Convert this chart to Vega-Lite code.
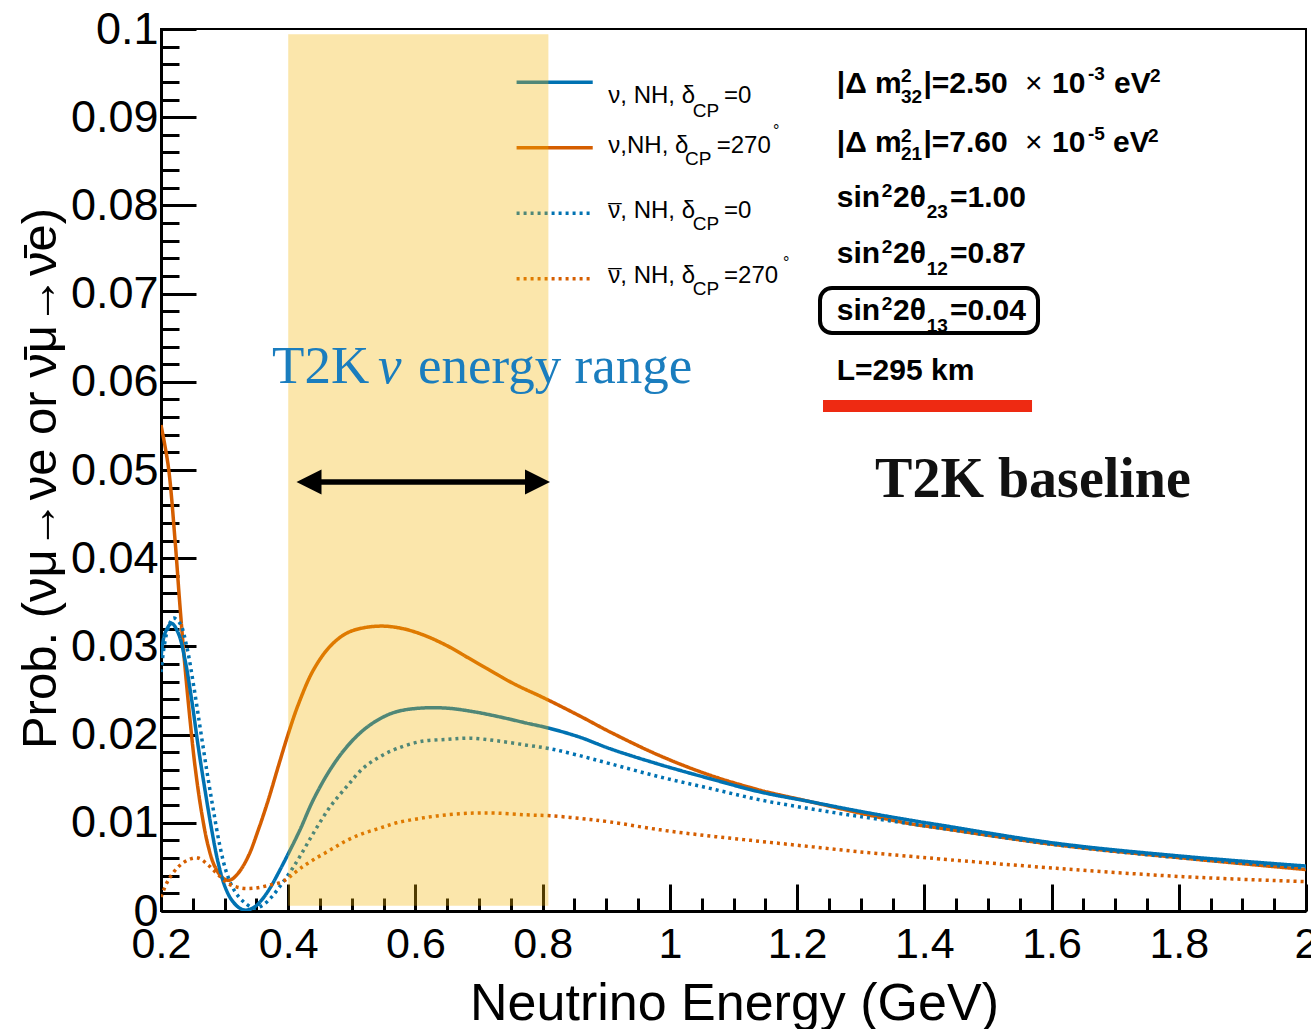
{
  "$schema": "https://vega.github.io/schema/vega-lite/v6.json",
  "width": 1145,
  "height": 882,
  "autosize": "none",
  "padding": {"left": 161, "top": 29, "right": 5, "bottom": 118},
  "background": "white",
  "config": {
    "view": {"stroke": "black", "strokeWidth": 2},
    "font": "Liberation Sans",
    "axis": {"grid": false, "domainColor": "black", "domainWidth": 3, "tickColor": "black", "tickWidth": 3, "labelColor": "black", "titleColor": "black", "labelFont": "Liberation Sans", "titleFont": "Liberation Sans", "labelFontWeight": "normal", "titleFontWeight": "normal", "labelOverlap": false, "labelBound": false, "labelFlush": false}
  },
  "resolve": {"axis": {"x": "independent", "y": "independent"}},
  "datasets": {
    "curves": [
      {"s": "nu270", "E": 0.2, "P": 0.0551}, {"s": "nu270", "E": 0.2115, "P": 0.0504}, {"s": "nu270", "E": 0.222, "P": 0.0421}, {"s": "nu270", "E": 0.2299, "P": 0.0345}, {"s": "nu270", "E": 0.2377, "P": 0.0277}, {"s": "nu270", "E": 0.2456, "P": 0.0217}, {"s": "nu270", "E": 0.2535, "P": 0.0164}, {"s": "nu270", "E": 0.264, "P": 0.0111}, {"s": "nu270", "E": 0.2744, "P": 0.0073}, {"s": "nu270", "E": 0.2849, "P": 0.005}, {"s": "nu270", "E": 0.2979, "P": 0.0037}, {"s": "nu270", "E": 0.3085, "P": 0.0035}, {"s": "nu270", "E": 0.3215, "P": 0.0043}, {"s": "nu270", "E": 0.3372, "P": 0.0062}, {"s": "nu270", "E": 0.353, "P": 0.0092}, {"s": "nu270", "E": 0.3687, "P": 0.0126}, {"s": "nu270", "E": 0.3844, "P": 0.0164}, {"s": "nu270", "E": 0.4001, "P": 0.0201}, {"s": "nu270", "E": 0.4158, "P": 0.0234}, {"s": "nu270", "E": 0.4394, "P": 0.0273}, {"s": "nu270", "E": 0.4657, "P": 0.03}, {"s": "nu270", "E": 0.4919, "P": 0.0315}, {"s": "nu270", "E": 0.518, "P": 0.0321}, {"s": "nu270", "E": 0.5495, "P": 0.0323}, {"s": "nu270", "E": 0.581, "P": 0.032}, {"s": "nu270", "E": 0.6124, "P": 0.0313}, {"s": "nu270", "E": 0.6491, "P": 0.0301}, {"s": "nu270", "E": 0.6806, "P": 0.0288}, {"s": "nu270", "E": 0.712, "P": 0.0275}, {"s": "nu270", "E": 0.7538, "P": 0.0258}, {"s": "nu270", "E": 0.8064, "P": 0.024}, {"s": "nu270", "E": 0.8587, "P": 0.0221}, {"s": "nu270", "E": 0.9059, "P": 0.0203}, {"s": "nu270", "E": 0.9845, "P": 0.0176}, {"s": "nu270", "E": 1.0631, "P": 0.0154}, {"s": "nu270", "E": 1.1417, "P": 0.0137}, {"s": "nu270", "E": 1.2203, "P": 0.0124}, {"s": "nu270", "E": 1.2989, "P": 0.0111}, {"s": "nu270", "E": 1.3775, "P": 0.0099}, {"s": "nu270", "E": 1.4247, "P": 0.0094}, {"s": "nu270", "E": 1.6081, "P": 0.0075}, {"s": "nu270", "E": 1.8071, "P": 0.006}, {"s": "nu270", "E": 2.0, "P": 0.0047},
      {"s": "nu0", "E": 0.2, "P": 0.0287}, {"s": "nu0", "E": 0.2063, "P": 0.0315}, {"s": "nu0", "E": 0.2168, "P": 0.0326}, {"s": "nu0", "E": 0.2272, "P": 0.0315}, {"s": "nu0", "E": 0.2377, "P": 0.0285}, {"s": "nu0", "E": 0.2483, "P": 0.0239}, {"s": "nu0", "E": 0.2586, "P": 0.0186}, {"s": "nu0", "E": 0.2692, "P": 0.0137}, {"s": "nu0", "E": 0.2797, "P": 0.0092}, {"s": "nu0", "E": 0.2901, "P": 0.0054}, {"s": "nu0", "E": 0.3006, "P": 0.00276}, {"s": "nu0", "E": 0.3111, "P": 0.00125}, {"s": "nu0", "E": 0.3242, "P": 0.0003}, {"s": "nu0", "E": 0.3347, "P": 0.0001}, {"s": "nu0", "E": 0.3478, "P": 0.0005}, {"s": "nu0", "E": 0.3583, "P": 0.00125}, {"s": "nu0", "E": 0.3714, "P": 0.0026}, {"s": "nu0", "E": 0.3844, "P": 0.0043}, {"s": "nu0", "E": 0.4001, "P": 0.0065}, {"s": "nu0", "E": 0.4185, "P": 0.0092}, {"s": "nu0", "E": 0.4394, "P": 0.0126}, {"s": "nu0", "E": 0.4657, "P": 0.016}, {"s": "nu0", "E": 0.4919, "P": 0.0186}, {"s": "nu0", "E": 0.518, "P": 0.0205}, {"s": "nu0", "E": 0.5443, "P": 0.0218}, {"s": "nu0", "E": 0.5705, "P": 0.0226}, {"s": "nu0", "E": 0.6072, "P": 0.023}, {"s": "nu0", "E": 0.6491, "P": 0.023}, {"s": "nu0", "E": 0.691, "P": 0.0226}, {"s": "nu0", "E": 0.7329, "P": 0.022}, {"s": "nu0", "E": 0.7749, "P": 0.0213}, {"s": "nu0", "E": 0.8115, "P": 0.0207}, {"s": "nu0", "E": 0.8587, "P": 0.0197}, {"s": "nu0", "E": 0.9059, "P": 0.0184}, {"s": "nu0", "E": 0.9845, "P": 0.0166}, {"s": "nu0", "E": 1.0631, "P": 0.015}, {"s": "nu0", "E": 1.1417, "P": 0.0135}, {"s": "nu0", "E": 1.2203, "P": 0.0124}, {"s": "nu0", "E": 1.2989, "P": 0.0113}, {"s": "nu0", "E": 1.3775, "P": 0.0103}, {"s": "nu0", "E": 1.4247, "P": 0.00975}, {"s": "nu0", "E": 1.6081, "P": 0.00767}, {"s": "nu0", "E": 1.8071, "P": 0.0062}, {"s": "nu0", "E": 2.0, "P": 0.0051},
      {"s": "nubar0", "E": 0.2, "P": 0.0271}, {"s": "nubar0", "E": 0.209, "P": 0.0315}, {"s": "nubar0", "E": 0.2193, "P": 0.0332}, {"s": "nubar0", "E": 0.2299, "P": 0.0326}, {"s": "nubar0", "E": 0.2404, "P": 0.03}, {"s": "nubar0", "E": 0.2508, "P": 0.0258}, {"s": "nubar0", "E": 0.2613, "P": 0.0209}, {"s": "nubar0", "E": 0.2718, "P": 0.016}, {"s": "nubar0", "E": 0.2822, "P": 0.0115}, {"s": "nubar0", "E": 0.2928, "P": 0.0073}, {"s": "nubar0", "E": 0.3033, "P": 0.0043}, {"s": "nubar0", "E": 0.3163, "P": 0.0022}, {"s": "nubar0", "E": 0.3321, "P": 0.0009}, {"s": "nubar0", "E": 0.3478, "P": 0.0003}, {"s": "nubar0", "E": 0.3608, "P": 0.0007}, {"s": "nubar0", "E": 0.374, "P": 0.0016}, {"s": "nubar0", "E": 0.3871, "P": 0.0028}, {"s": "nubar0", "E": 0.4028, "P": 0.0044}, {"s": "nubar0", "E": 0.4185, "P": 0.0062}, {"s": "nubar0", "E": 0.4394, "P": 0.0088}, {"s": "nubar0", "E": 0.4657, "P": 0.0118}, {"s": "nubar0", "E": 0.4919, "P": 0.0141}, {"s": "nubar0", "E": 0.518, "P": 0.0162}, {"s": "nubar0", "E": 0.5443, "P": 0.0175}, {"s": "nubar0", "E": 0.5705, "P": 0.0184}, {"s": "nubar0", "E": 0.6072, "P": 0.0192}, {"s": "nubar0", "E": 0.6491, "P": 0.01946}, {"s": "nubar0", "E": 0.6858, "P": 0.0196}, {"s": "nubar0", "E": 0.7277, "P": 0.0193}, {"s": "nubar0", "E": 0.7749, "P": 0.0188}, {"s": "nubar0", "E": 0.8115, "P": 0.0184}, {"s": "nubar0", "E": 0.8535, "P": 0.0177}, {"s": "nubar0", "E": 0.9059, "P": 0.0167}, {"s": "nubar0", "E": 0.9845, "P": 0.0152}, {"s": "nubar0", "E": 1.0631, "P": 0.0139}, {"s": "nubar0", "E": 1.1417, "P": 0.0126}, {"s": "nubar0", "E": 1.2203, "P": 0.0116}, {"s": "nubar0", "E": 1.2989, "P": 0.0107}, {"s": "nubar0", "E": 1.3775, "P": 0.0099}, {"s": "nubar0", "E": 1.4247, "P": 0.0094}, {"s": "nubar0", "E": 1.6081, "P": 0.0075}, {"s": "nubar0", "E": 1.8071, "P": 0.006}, {"s": "nubar0", "E": 2.0, "P": 0.0049},
      {"s": "nubar270", "E": 0.2, "P": 0.0016}, {"s": "nubar270", "E": 0.2115, "P": 0.0035}, {"s": "nubar270", "E": 0.2272, "P": 0.005}, {"s": "nubar270", "E": 0.2429, "P": 0.0058}, {"s": "nubar270", "E": 0.2586, "P": 0.006}, {"s": "nubar270", "E": 0.2744, "P": 0.0052}, {"s": "nubar270", "E": 0.2901, "P": 0.0041}, {"s": "nubar270", "E": 0.3058, "P": 0.0031}, {"s": "nubar270", "E": 0.3269, "P": 0.0026}, {"s": "nubar270", "E": 0.3478, "P": 0.0026}, {"s": "nubar270", "E": 0.3687, "P": 0.0029}, {"s": "nubar270", "E": 0.3898, "P": 0.0033}, {"s": "nubar270", "E": 0.4028, "P": 0.0039}, {"s": "nubar270", "E": 0.4185, "P": 0.0048}, {"s": "nubar270", "E": 0.4394, "P": 0.0058}, {"s": "nubar270", "E": 0.4657, "P": 0.0069}, {"s": "nubar270", "E": 0.4919, "P": 0.008}, {"s": "nubar270", "E": 0.518, "P": 0.0088}, {"s": "nubar270", "E": 0.5443, "P": 0.0094}, {"s": "nubar270", "E": 0.5705, "P": 0.01}, {"s": "nubar270", "E": 0.6072, "P": 0.0105}, {"s": "nubar270", "E": 0.6491, "P": 0.0109}, {"s": "nubar270", "E": 0.691, "P": 0.0111}, {"s": "nubar270", "E": 0.7277, "P": 0.0111}, {"s": "nubar270", "E": 0.7749, "P": 0.0109}, {"s": "nubar270", "E": 0.8115, "P": 0.0108}, {"s": "nubar270", "E": 0.8587, "P": 0.0105}, {"s": "nubar270", "E": 0.9059, "P": 0.0101}, {"s": "nubar270", "E": 0.9845, "P": 0.0092}, {"s": "nubar270", "E": 1.0631, "P": 0.0085}, {"s": "nubar270", "E": 1.1417, "P": 0.0079}, {"s": "nubar270", "E": 1.2203, "P": 0.0073}, {"s": "nubar270", "E": 1.2989, "P": 0.0067}, {"s": "nubar270", "E": 1.3775, "P": 0.0062}, {"s": "nubar270", "E": 1.4247, "P": 0.0059}, {"s": "nubar270", "E": 1.6081, "P": 0.00484}, {"s": "nubar270", "E": 1.8071, "P": 0.00389}, {"s": "nubar270", "E": 2.0, "P": 0.00333}
    ],
    "legendlines": [
      {"s": "nu0", "E": 0.759, "E2": 0.8787, "P": 0.09396},
      {"s": "nu270", "E": 0.759, "E2": 0.8787, "P": 0.08654},
      {"s": "nubar0", "E": 0.759, "E2": 0.8787, "P": 0.0791},
      {"s": "nubar270", "E": 0.759, "E2": 0.8787, "P": 0.07169}
    ],
    "texts": [
      {"k": "leg", "t": "ν, NH, δ", "E": 0.9032, "P": 0.09161},
      {"k": "legsub", "t": "CP", "E": 1.0359, "P": 0.09},
      {"k": "leg", "t": "=0", "E": 1.0851, "P": 0.09161},
      {"k": "leg", "t": "ν,NH, δ", "E": 0.9032, "P": 0.08591},
      {"k": "legsub", "t": "CP", "E": 1.0238, "P": 0.08458},
      {"k": "leg", "t": "=270", "E": 1.0736, "P": 0.08591},
      {"k": "legdeg", "t": "°", "E": 1.1621, "P": 0.08787},
      {"k": "leg", "t": "ν, NH, δ", "E": 0.9032, "P": 0.07854},
      {"k": "leg", "t": "¯", "E": 0.9032, "P": 0.0782},
      {"k": "legsub", "t": "CP", "E": 1.0359, "P": 0.07721},
      {"k": "leg", "t": "=0", "E": 1.0851, "P": 0.07854},
      {"k": "leg", "t": "ν, NH, δ", "E": 0.9032, "P": 0.07117},
      {"k": "leg", "t": "¯", "E": 0.9032, "P": 0.07083},
      {"k": "legsub", "t": "CP", "E": 1.0359, "P": 0.06984},
      {"k": "leg", "t": "=270", "E": 1.0851, "P": 0.07117},
      {"k": "legdeg", "t": "°", "E": 1.1778, "P": 0.0729},
      {"k": "par", "t": "|Δ m", "E": 1.2623, "P": 0.09271},
      {"k": "parsub", "t": "2", "E": 1.3634, "P": 0.09403},
      {"k": "parsub", "t": "32", "E": 1.3634, "P": 0.09157},
      {"k": "par", "t": "|=2.50", "E": 1.3985, "P": 0.09271},
      {"k": "times", "t": "×", "E": 1.5583, "P": 0.09271},
      {"k": "par", "t": "10", "E": 1.6007, "P": 0.09271},
      {"k": "parsub", "t": "-3", "E": 1.6573, "P": 0.09422},
      {"k": "par", "t": "eV", "E": 1.6982, "P": 0.09271},
      {"k": "parsub", "t": "2", "E": 1.7548, "P": 0.09403},
      {"k": "par", "t": "|Δ m", "E": 1.2623, "P": 0.08609},
      {"k": "parsub", "t": "2", "E": 1.3634, "P": 0.08722},
      {"k": "parsub", "t": "21", "E": 1.3634, "P": 0.08515},
      {"k": "par", "t": "|=7.60", "E": 1.3985, "P": 0.08609},
      {"k": "times", "t": "×", "E": 1.5583, "P": 0.08609},
      {"k": "par", "t": "10", "E": 1.6007, "P": 0.08609},
      {"k": "parsub", "t": "-5", "E": 1.6573, "P": 0.08741},
      {"k": "par", "t": "eV", "E": 1.6966, "P": 0.08609},
      {"k": "parsub", "t": "2", "E": 1.7517, "P": 0.08722},
      {"k": "par", "t": "sin", "E": 1.2623, "P": 0.07985},
      {"k": "parsub", "t": "2", "E": 1.333, "P": 0.08098},
      {"k": "par", "t": "2θ", "E": 1.3508, "P": 0.07985},
      {"k": "parsub", "t": "23", "E": 1.4038, "P": 0.07857},
      {"k": "par", "t": "=1.00", "E": 1.4404, "P": 0.07985},
      {"k": "par", "t": "sin", "E": 1.2623, "P": 0.07344},
      {"k": "parsub", "t": "2", "E": 1.333, "P": 0.07457},
      {"k": "par", "t": "2θ", "E": 1.3508, "P": 0.07344},
      {"k": "parsub", "t": "12", "E": 1.4038, "P": 0.07211},
      {"k": "par", "t": "=0.87", "E": 1.4404, "P": 0.07344},
      {"k": "par", "t": "sin", "E": 1.2623, "P": 0.06701},
      {"k": "parsub", "t": "2", "E": 1.333, "P": 0.06814},
      {"k": "par", "t": "2θ", "E": 1.3508, "P": 0.06701},
      {"k": "parsub", "t": "13", "E": 1.4038, "P": 0.06568},
      {"k": "par", "t": "=0.04", "E": 1.4404, "P": 0.06701},
      {"k": "par", "t": "L=295 km", "E": 1.2623, "P": 0.0602},
      {"k": "t2k", "t": "T2K", "E": 0.3745, "P": 0.05986},
      {"k": "t2kit", "t": "ν", "E": 0.5411, "P": 0.05986},
      {"k": "t2k", "t": "energy range", "E": 0.604, "P": 0.05986},
      {"k": "base", "t": "T2K baseline", "E": 1.3225, "P": 0.04694}
    ]
  },
  "layer": [
    {
      "data": {"name": "curves"},
      "mark": {"type": "line", "strokeWidth": 3.5, "interpolate": "catmull-rom", "clip": true},
      "encoding": {
        "x": {"field": "E", "type": "quantitative", "scale": {"domain": [0.2, 2], "nice": false, "zero": false},
          "axis": {
            "orient": "bottom",
            "title": "Neutrino Energy (GeV)", "titleFontSize": 52, "titleBaseline": "alphabetic", "titleX": 573, "titleY": 108, "titleAlign": "center",
            "values": [0.2, 0.4, 0.6, 0.8, 1, 1.2, 1.4, 1.6, 1.8, 2],
            "tickSize": -27,
            "labelExpr": "format(datum.value, '~g')",
            "labelFontSize": 43, "labelBaseline": "alphabetic", "labelPadding": 73, "labelAlign": "center"
          }},
        "y": {"field": "P", "type": "quantitative", "scale": {"domain": [0, 0.1], "nice": false},
          "axis": {
            "orient": "left",
            "title": "Prob. (νμ→νe or ν̄μ→ν̄e)", "titleFontSize": 49, "titleAngle": -90, "titleBaseline": "alphabetic", "titleX": -106, "titleY": 449, "titleAlign": "center",
            "values": [0, 0.01, 0.02, 0.03, 0.04, 0.05, 0.06, 0.07, 0.08, 0.09, 0.1],
            "tickSize": -35,
            "labelExpr": "format(datum.value, '~g')",
            "labelFontSize": 45, "labelBaseline": "middle", "labelPadding": 38, "labelAlign": "right"
          }},
        "color": {"field": "s", "type": "nominal", "scale": {"domain": ["nu0", "nu270", "nubar0", "nubar270"], "range": ["#0072B2", "#D55E00", "#0072B2", "#D55E00"]}, "legend": null},
        "strokeDash": {"field": "s", "type": "nominal", "scale": {"domain": ["nu0", "nu270", "nubar0", "nubar270"], "range": [[1, 0], [1, 0], [3, 4], [3, 4]]}, "legend": null}
      }
    },
    {
      "data": {"name": "legendlines"},
      "mark": {"type": "rule", "strokeWidth": 3.5},
      "encoding": {
        "x": {"field": "E", "type": "quantitative",
          "axis": {"orient": "bottom", "title": null, "labels": false, "domain": false, "tickSize": -13,
            "values": [0.25, 0.3, 0.35, 0.45, 0.5, 0.55, 0.65, 0.7, 0.75, 0.85, 0.9, 0.95, 1.05, 1.1, 1.15, 1.25, 1.3, 1.35, 1.45, 1.5, 1.55, 1.65, 1.7, 1.75, 1.85, 1.9, 1.95]}},
        "x2": {"field": "E2"},
        "y": {"field": "P", "type": "quantitative",
          "axis": {"orient": "left", "title": null, "labels": false, "domain": false, "tickSize": -18,
            "values": [0.002, 0.004, 0.006, 0.008, 0.012, 0.014, 0.016, 0.018, 0.022, 0.024, 0.026, 0.028, 0.032, 0.034, 0.036, 0.038, 0.042, 0.044, 0.046, 0.048, 0.052, 0.054, 0.056, 0.058, 0.062, 0.064, 0.066, 0.068, 0.072, 0.074, 0.076, 0.078, 0.082, 0.084, 0.086, 0.088, 0.092, 0.094, 0.096, 0.098]}},
        "color": {"field": "s", "type": "nominal", "legend": null},
        "strokeDash": {"field": "s", "type": "nominal", "legend": null}
      }
    },
    {
      "data": {"values": [{"E": 0.4, "E2": 0.809, "P": 0.0006, "P2": 0.0994}]},
      "mark": {"type": "rect", "color": "#F2B300", "opacity": 0.33},
      "encoding": {
        "x": {"field": "E", "type": "quantitative", "axis": null},
        "x2": {"field": "E2"},
        "y": {"field": "P", "type": "quantitative", "axis": null},
        "y2": {"field": "P2"}
      }
    },
    {
      "data": {"values": [{"E": 0.4327, "E2": 0.7919, "P": 0.04864}]},
      "mark": {"type": "rule", "strokeWidth": 5.5, "color": "black"},
      "encoding": {
        "x": {"field": "E", "type": "quantitative", "axis": null},
        "x2": {"field": "E2"},
        "y": {"field": "P", "type": "quantitative", "axis": null}
      }
    },
    {
      "data": {"values": [{"E": 0.4327, "P": 0.04864, "d": "L"}, {"E": 0.7919, "P": 0.04864, "d": "R"}]},
      "mark": {"type": "point", "filled": true, "color": "black", "opacity": 1, "size": 625, "strokeWidth": 0},
      "encoding": {
        "x": {"field": "E", "type": "quantitative", "axis": null},
        "y": {"field": "P", "type": "quantitative", "axis": null},
        "shape": {"field": "d", "type": "nominal", "scale": {"domain": ["L", "R"], "range": ["M1,-1L-1,0L1,1Z", "M-1,-1L1,0L-1,1Z"]}, "legend": null}
      }
    },
    {
      "data": {"values": [{"E": 1.2407, "E2": 1.5693, "P": 0.05726}]},
      "mark": {"type": "rule", "strokeWidth": 12, "color": "#EE2A12"},
      "encoding": {
        "x": {"field": "E", "type": "quantitative", "axis": null},
        "x2": {"field": "E2"},
        "y": {"field": "P", "type": "quantitative", "axis": null}
      }
    },
    {
      "data": {"values": [{"E": 1.236, "E2": 1.5787, "P": 0.06553, "P2": 0.07063}]},
      "mark": {"type": "rect", "fillOpacity": 0, "stroke": "black", "strokeWidth": 4, "cornerRadius": 12},
      "encoding": {
        "x": {"field": "E", "type": "quantitative", "axis": null},
        "x2": {"field": "E2"},
        "y": {"field": "P", "type": "quantitative", "axis": null},
        "y2": {"field": "P2"}
      }
    },
    {
      "data": {"name": "texts"},
      "transform": [{"filter": "datum.k == 'leg'"}],
      "mark": {"type": "text", "align": "left", "baseline": "alphabetic", "font": "Liberation Sans", "fontSize": 24, "color": "black"},
      "encoding": {"x": {"field": "E", "type": "quantitative", "axis": null}, "y": {"field": "P", "type": "quantitative", "axis": null}, "text": {"field": "t"}}
    },
    {
      "data": {"name": "texts"},
      "transform": [{"filter": "datum.k == 'legsub'"}],
      "mark": {"type": "text", "align": "left", "baseline": "alphabetic", "font": "Liberation Sans", "fontSize": 19, "color": "black"},
      "encoding": {"x": {"field": "E", "type": "quantitative", "axis": null}, "y": {"field": "P", "type": "quantitative", "axis": null}, "text": {"field": "t"}}
    },
    {
      "data": {"name": "texts"},
      "transform": [{"filter": "datum.k == 'legdeg'"}],
      "mark": {"type": "text", "align": "left", "baseline": "alphabetic", "font": "Liberation Sans", "fontSize": 16, "color": "black"},
      "encoding": {"x": {"field": "E", "type": "quantitative", "axis": null}, "y": {"field": "P", "type": "quantitative", "axis": null}, "text": {"field": "t"}}
    },
    {
      "data": {"name": "texts"},
      "transform": [{"filter": "datum.k == 'par'"}],
      "mark": {"type": "text", "align": "left", "baseline": "alphabetic", "font": "Liberation Sans", "fontSize": 30, "fontWeight": "bold", "color": "black"},
      "encoding": {"x": {"field": "E", "type": "quantitative", "axis": null}, "y": {"field": "P", "type": "quantitative", "axis": null}, "text": {"field": "t"}}
    },
    {
      "data": {"name": "texts"},
      "transform": [{"filter": "datum.k == 'parsub'"}],
      "mark": {"type": "text", "align": "left", "baseline": "alphabetic", "font": "Liberation Sans", "fontSize": 19, "fontWeight": "bold", "color": "black"},
      "encoding": {"x": {"field": "E", "type": "quantitative", "axis": null}, "y": {"field": "P", "type": "quantitative", "axis": null}, "text": {"field": "t"}}
    },
    {
      "data": {"name": "texts"},
      "transform": [{"filter": "datum.k == 'times'"}],
      "mark": {"type": "text", "align": "left", "baseline": "alphabetic", "font": "Liberation Sans", "fontSize": 30, "color": "black"},
      "encoding": {"x": {"field": "E", "type": "quantitative", "axis": null}, "y": {"field": "P", "type": "quantitative", "axis": null}, "text": {"field": "t"}}
    },
    {
      "data": {"name": "texts"},
      "transform": [{"filter": "datum.k == 't2k'"}],
      "mark": {"type": "text", "align": "left", "baseline": "alphabetic", "font": "Liberation Serif", "fontSize": 53, "color": "#1A7DBE"},
      "encoding": {"x": {"field": "E", "type": "quantitative", "axis": null}, "y": {"field": "P", "type": "quantitative", "axis": null}, "text": {"field": "t"}}
    },
    {
      "data": {"name": "texts"},
      "transform": [{"filter": "datum.k == 't2kit'"}],
      "mark": {"type": "text", "align": "left", "baseline": "alphabetic", "font": "Liberation Serif", "fontSize": 53, "fontStyle": "italic", "color": "#1A7DBE"},
      "encoding": {"x": {"field": "E", "type": "quantitative", "axis": null}, "y": {"field": "P", "type": "quantitative", "axis": null}, "text": {"field": "t"}}
    },
    {
      "data": {"name": "texts"},
      "transform": [{"filter": "datum.k == 'base'"}],
      "mark": {"type": "text", "align": "left", "baseline": "alphabetic", "font": "Liberation Serif", "fontSize": 56, "fontWeight": "bold", "color": "#111111"},
      "encoding": {"x": {"field": "E", "type": "quantitative", "axis": null}, "y": {"field": "P", "type": "quantitative", "axis": null}, "text": {"field": "t"}}
    }
  ]
}
